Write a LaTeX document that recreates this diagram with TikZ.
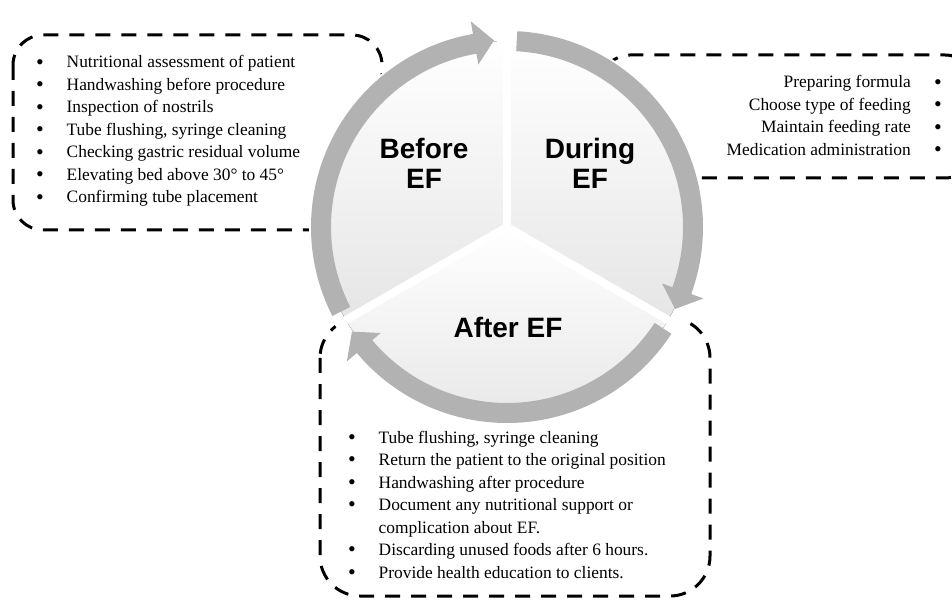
\documentclass[tikz,border=0pt]{standalone}
\usepackage{fontspec}
\setmainfont{Liberation Serif}
\setsansfont{Liberation Sans}
\newcommand{\lbul}{\makebox[30.5pt][l]{\raisebox{-1.3pt}{\fontsize{22}{22}\selectfont\textbullet}}}
\newcommand{\rbul}{\makebox[31pt][r]{\raisebox{-1.3pt}{\fontsize{22}{22}\selectfont\textbullet}}}

\begin{document}
\begin{tikzpicture}[x=1pt,y=1pt,
  notebox/.style={black, line width=3pt, dash pattern=on 15pt off 11pt, rounded corners=30pt},
  sector/.style={top color=white, bottom color=black!10},
  gapline/.style={white, line width=8pt},
  ringarrow/.style={fill=black!30},
  stage/.style={font=\sffamily\bfseries\fontsize{28}{30}\selectfont, align=center, inner sep=0pt},
  notes/.style={font=\fontsize{17.4}{22.5}\selectfont, inner sep=0pt}]
  \clip (0,0) rectangle (952,600);
  % dashed boxes, partly hidden by the cycle
  \draw[notebox] (13,565) rectangle (382,370);
  \draw[notebox] (600,545) rectangle (975,422);
  \draw[notebox, rounded corners=40pt] (320,282) rectangle (710,4);
  \begin{scope}[shift={(507,373)}]
    \fill[white] (0,0) circle (198);
    \foreach \a in {90,-30,210}
      \fill[sector] (0,0) -- (\a:186) arc[start angle=\a, end angle=\a+120, radius=186] -- cycle;
    \foreach \a in {90,-30,210}
      \draw[gapline] (0,0) -- (\a:196);
    % ring arrows, clockwise
    \foreach \s/\t in {207/94, 87/-26, -33/-146} {
      \pgfmathsetmacro\b{\t+6}
      \fill[ringarrow] (\s:196) arc[start angle=\s, end angle=\b, radius=196]
        -- (\b:209) -- (\t:187) -- (\b:165) -- (\b:176)
        arc[start angle=\b, end angle=\s, radius=176] -- cycle;
    }
  \end{scope}
  \node[stage] (before) at (424,437) {Before\\EF};
  \node[stage] (during) at (590,437) {During\\EF};
  \node[stage] (after) at (508,273) {After EF};
  \node[notes, anchor=base west] (beforelist) at (36,532) {%
    \begin{tabular}[t]{@{}l@{}l@{}}
      \lbul & Nutritional assessment of patient\\
      \lbul & Handwashing before procedure\\
      \lbul & Inspection of nostrils\\
      \lbul & Tube flushing, syringe cleaning\\
      \lbul & Checking gastric residual volume\\
      \lbul & Elevating bed above 30° to 45°\\
      \lbul & Confirming tube placement
    \end{tabular}};
  \node[notes, anchor=base east] (duringlist) at (942,512) {%
    \begin{tabular}[t]{@{}r@{}l@{}}
      Preparing formula & \rbul\\
      Choose type of feeding & \rbul\\
      Maintain feeding rate & \rbul\\
      Medication administration & \rbul
    \end{tabular}};
  \node[notes, anchor=base west] (afterlist) at (348,157) {%
    \begin{tabular}[t]{@{}l@{}l@{}}
      \lbul & Tube flushing, syringe cleaning\\
      \lbul & Return the patient to the original position\\
      \lbul & Handwashing after procedure\\
      \lbul & Document any nutritional support or\\
            & complication about EF.\\
      \lbul & Discarding unused foods after 6 hours.\\
      \lbul & Provide health education to clients.
    \end{tabular}};
\end{tikzpicture}
\end{document}
